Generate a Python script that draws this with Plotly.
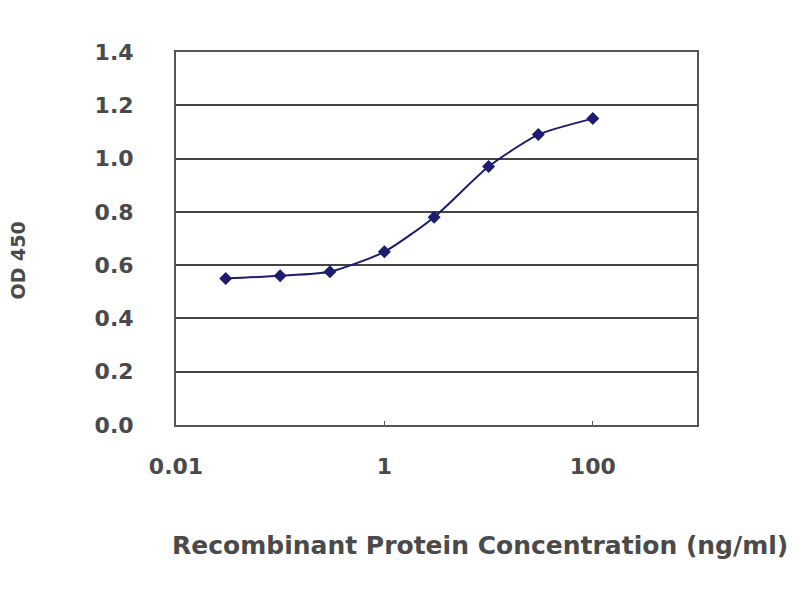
import plotly.graph_objects as go

concentration = [0.03, 0.1, 0.3, 1, 3, 10, 30, 100]
od450 = [0.55, 0.56, 0.575, 0.65, 0.78, 0.97, 1.09, 1.15]
x_tick_vals = [0.01, 1, 100]
x_tick_text = ["0.01", "1", "100"]
y_tick_vals = [0.0, 0.2, 0.4, 0.6, 0.8, 1.0, 1.2, 1.4]
y_tick_text = ["0.0", "0.2", "0.4", "0.6", "0.8", "1.0", "1.2", "1.4"]

navy = "#1c1c70"
fig = go.Figure()
fig.add_trace(go.Scatter(
    x=concentration, y=od450, mode="lines+markers",
    line=dict(color=navy, width=2, shape="spline", smoothing=0.6),
    marker=dict(symbol="diamond", size=10, color=navy),
    showlegend=False,
))

fam = "DejaVu Sans, Verdana, sans-serif"
font = dict(family=fam, size=22, color="#4a4a4a", weight="bold")
fig.update_layout(
    width=800, height=600,
    margin=dict(l=168, r=111, t=44, b=183),
    paper_bgcolor="white", plot_bgcolor="white",
    font=font,
    xaxis=dict(
        type="log", range=[-2, 3],
        tickvals=x_tick_vals, ticktext=x_tick_text,
        showgrid=False, zeroline=False,
        showline=True, linecolor="#555555", linewidth=2, mirror=True,
        ticks="inside", ticklen=4, tickcolor="#555555",
        ticklabelstandoff=21,
        tickfont=font,
    ),
    yaxis=dict(
        range=[0, 1.4],
        tickvals=y_tick_vals, ticktext=y_tick_text,
        showgrid=True, gridcolor="#444444", gridwidth=2,
        zeroline=False,
        showline=True, linecolor="#555555", linewidth=2, mirror=True,
        ticks="", ticklabelstandoff=36,
        tickfont=font,
    ),
    annotations=[
        dict(text="Recombinant Protein Concentration (ng/ml)", xref="paper", yref="paper",
             x=0.583, y=0, yshift=-120, showarrow=False,
             font=dict(family=fam, size=25, color="#4a4a4a", weight="bold"),
             xanchor="center", yanchor="middle"),
        dict(text="OD 450", xref="paper", yref="paper", x=0, xshift=-159, y=0.5, yshift=-22,
             showarrow=False, textangle=-90,
             font=dict(family=fam, size=19, color="#4a4a4a", weight="bold"),
             xanchor="center", yanchor="middle"),
    ],
)

fig.write_html("out.html")
